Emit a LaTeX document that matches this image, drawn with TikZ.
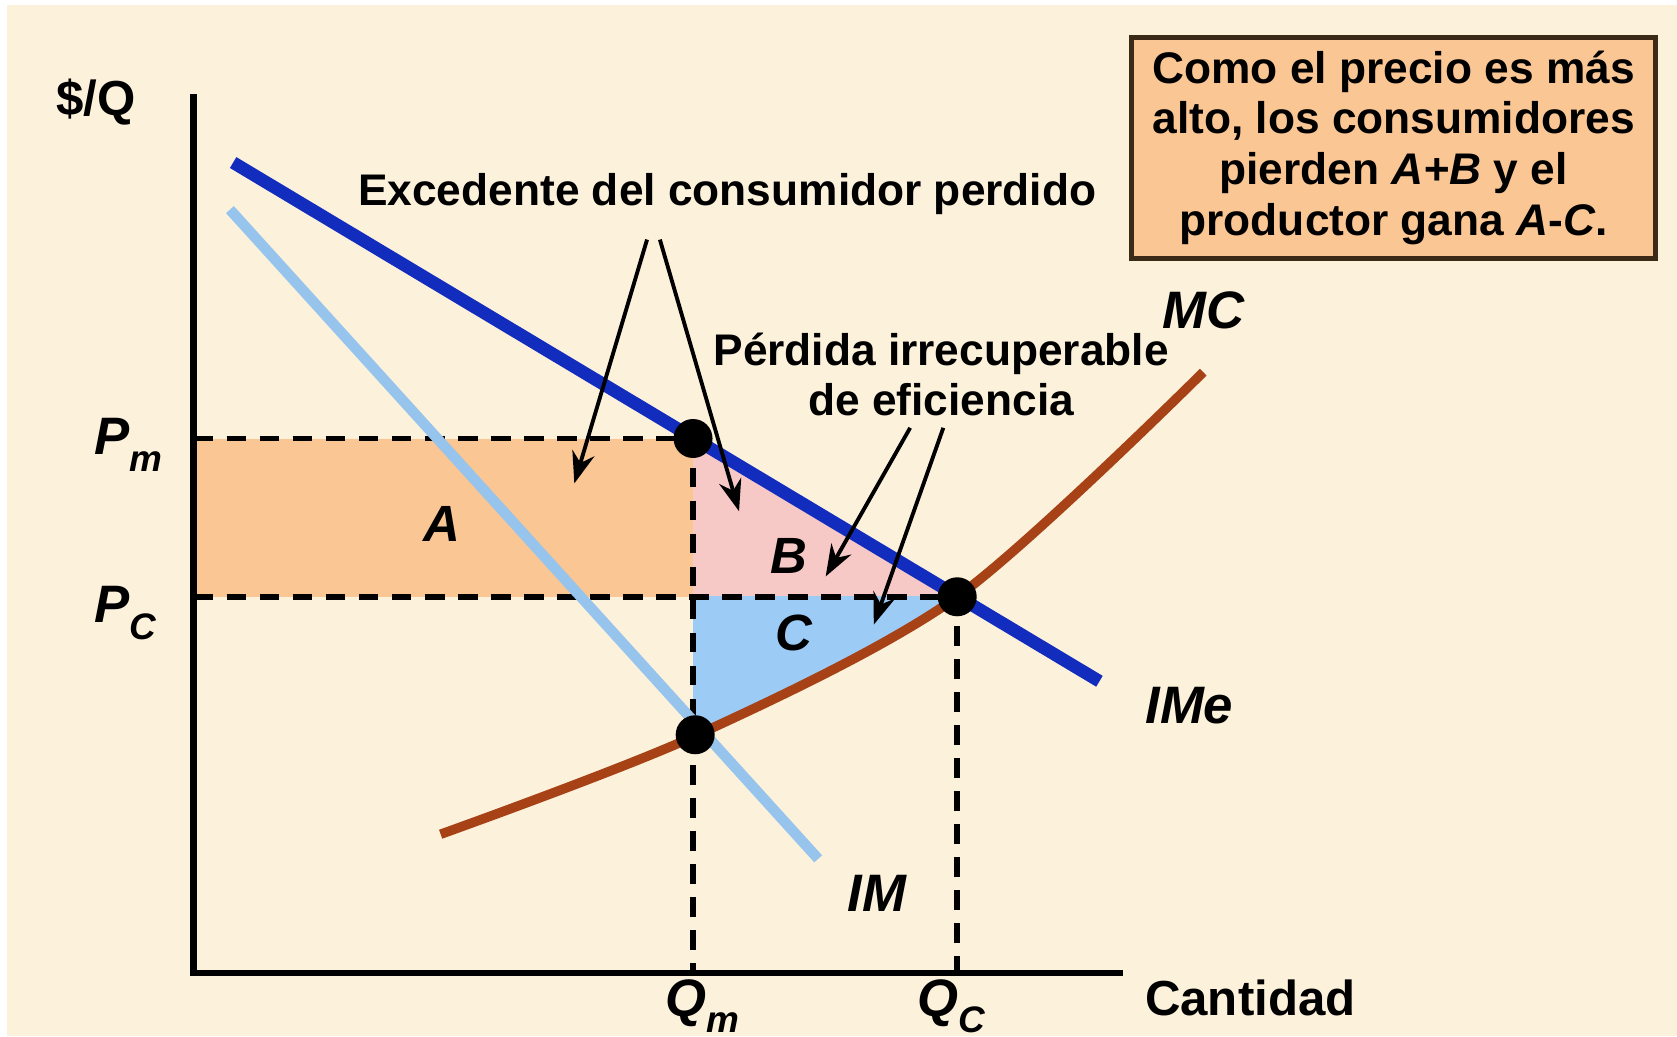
\documentclass[tikz,border=0pt]{standalone}
\usepackage{fontspec}
\setmainfont{Liberation Sans}
\usetikzlibrary{arrows.meta}
\definecolor{bgc}{RGB}{252,241,219}
\definecolor{afill}{RGB}{249,198,148}
\definecolor{bfill}{RGB}{246,200,198}
\definecolor{cfill}{RGB}{156,203,245}
\definecolor{imecol}{RGB}{18,44,190}
\definecolor{imcol}{RGB}{150,196,236}
\definecolor{mccol}{RGB}{166,66,22}
\definecolor{boxfill}{RGB}{249,198,148}
\definecolor{boxline}{RGB}{60,42,25}
\begin{document}
\begin{tikzpicture}[x=0.010695cm,y=-0.010695cm,
  lbl/.style={font=\fontsize{12.6}{14.4}\selectfont\bfseries, inner sep=0pt},
  axlbl/.style={font=\fontsize{14}{16}\selectfont\bfseries, inner sep=0pt},
  ital/.style={font=\fontsize{15}{15}\selectfont\bfseries\itshape, inner sep=0pt},
  area/.style={font=\fontsize{14.5}{15}\selectfont\bfseries\itshape, inner sep=0pt},
  dashln/.style={line width=1.6pt, dash pattern=on 5.6pt off 3.8pt},
  pointer/.style={line width=1.1pt, -{Stealth[length=9pt,width=6.5pt]}},
  dot/.style={circle, fill=black, minimum size=0.39cm, inner sep=0pt},
  imeline/.style={imecol, line width=3.6pt},
  imline/.style={imcol, line width=3pt},
  mcline/.style={mccol, line width=2.7pt}]

\fill[white] (0,0) rectangle (1568,969);
\fill[bgc] (7,5) rectangle (1568,969);
\useasboundingbox (0,0) rectangle (1568,969);

% shaded areas
\fill[afill] (181,410) rectangle (648,558);
\fill[bfill] (648,410) -- (648,558) -- (895,558) -- cycle;
\begin{scope}
  \clip (648,558) rectangle (895,800);
  \fill[cfill] plot[smooth] coordinates {(412,780) (650,688) (895,558) (1125,348)} -- (1125,0) -- (412,0) -- cycle;
\end{scope}

% dashed guides
\draw[dashln] (181,410) -- (648,410) -- (648,910);
\draw[dashln] (181,558) -- (895,558) -- (895,910);

% curves
\draw[imline] (215,196) -- (765,803);
\draw[mcline] plot[smooth] coordinates {(412,780) (650,688) (895,558) (1125,348)};
\draw[imeline] (218,152) -- (1028,637);

% axes
\draw[line width=1.8pt] (181,88) -- (181,910) -- (1050,910);

% points
\node[dot] (pm) at (648,410) {};
\node[dot] (pc) at (895,558) {};
\node[dot] (qm) at (650,687) {};

% axis labels
\node[axlbl] (yl) at (90,95) {\$/Q};
\node[axlbl, anchor=west] (xl) at (1070,933) {Cantidad};
\node[ital, anchor=base west] (pml) at (88,425) {P\raisebox{-0.32em}{\fontsize{10.5}{11}\selectfont m}};
\node[ital, anchor=base west] (pcl) at (88,582) {P\raisebox{-0.32em}{\fontsize{10.5}{11}\selectfont C}};
\node[ital, anchor=base west] (qml) at (622,950) {Q\raisebox{-0.32em}{\fontsize{10.5}{11}\selectfont m}};
\node[ital, anchor=base west] (qcl) at (857,950) {Q\raisebox{-0.32em}{\fontsize{10.5}{11}\selectfont C}};

% curve labels
\node[ital] (mcl) at (1125,290) {MC};
\node[ital] (imel) at (1112,660) {IMe};
\node[ital] (iml) at (820,835) {IM};

% area labels
\node[area] (al) at (413,490) {A};
\node[area] (bl) at (738,520) {B};
\node[area] (cl) at (742,592) {C};

% annotations
\node[lbl] (exc) at (680,181) {Excedente del consumidor perdido};
\node[lbl, align=center] (perd) at (880,350) {Pérdida irrecuperable\\de eficiencia};

\coordinate (e1s) at (605,224);
\coordinate (e1e) at (537,452);
\coordinate (e2s) at (617,224);
\coordinate (e2e) at (691,478);
\coordinate (p1s) at (851,400);
\coordinate (p1e) at (772,539);
\coordinate (p2s) at (882,400);
\coordinate (p2e) at (817,584);
\draw[pointer] (e1s) -- (e1e);
\draw[pointer] (e2s) -- (e2e);
\draw[pointer] (p1s) -- (p1e);
\draw[pointer] (p2s) -- (p2e);

% info box
\node[draw=boxline, fill=boxfill, line width=1.4pt, minimum width=5.24cm, minimum height=2.21cm,
      align=center, inner sep=0pt, font=\fontsize{12.6}{14.4}\selectfont\bfseries] (box) at (1303,138)
  {Como el precio es más\\alto, los consumidores\\pierden \textit{A+B} y el\\productor gana \textit{A}-\textit{C}.};
\end{tikzpicture}
\end{document}
